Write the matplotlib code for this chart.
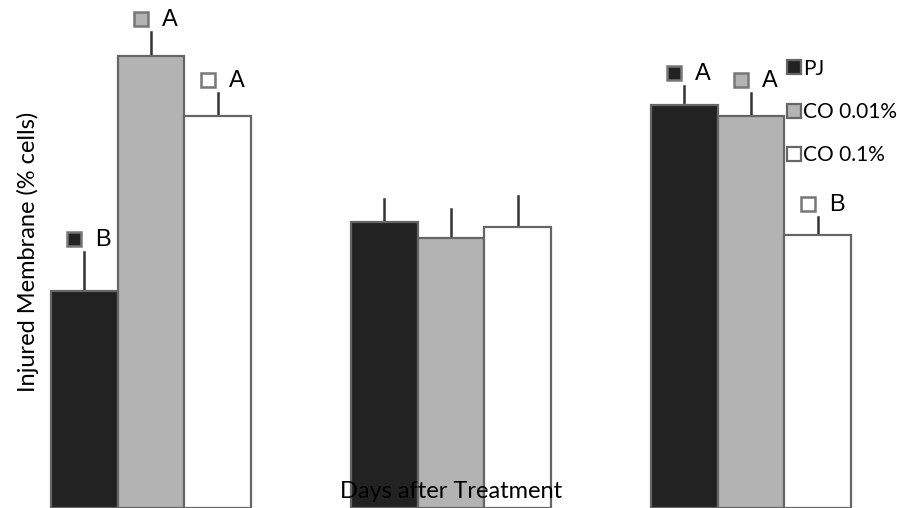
import matplotlib
matplotlib.use("Agg")
import matplotlib.pyplot as plt
import matplotlib.transforms as mtransforms
import numpy as np

# injured membrane (% cells), one list per treatment, three sampling days
groups = ["day 1", "day 2", "day 3"]
treatments = ["PJ", "CO 0.01%", "CO 0.1%"]
pj = [43.4, 57.2, 80.6]
co001 = [90.4, 54.0, 78.4]
co01 = [78.4, 56.2, 54.6]
pj_err = [7.8, 4.6, 3.8]
co001_err = [4.8, 5.8, 4.6]
co01_err = [4.6, 6.2, 3.6]
pj_sig = ["B", "", "A"]
co001_sig = ["A", "", "A"]
co01_sig = ["A", "", "B"]

colors = ["#222222", "#b3b3b3", "#ffffff"]

fig = plt.figure(figsize=(8.97, 5.08), dpi=100)
ax = fig.add_axes([0, 0, 1, 1])

x = np.arange(len(groups))
w = 0.222
series = [(pj, pj_err, pj_sig), (co001, co001_err, co001_sig), (co01, co01_err, co01_sig)]

mark_tr = lambda: mtransforms.offset_copy(ax.transData, fig, x=-10, y=13, units="dots")
text_tr = lambda: mtransforms.offset_copy(ax.transData, fig, x=19, y=12, units="dots")

for i, (vals, errs, sig) in enumerate(series):
    xs = x + (i - 1) * w
    ax.bar(xs, vals, width=w, color=colors[i], edgecolor="#666666",
           linewidth=1.6, label=treatments[i], zorder=2)
    for xi, v, e, s in zip(xs, vals, errs, sig):
        ax.plot([xi, xi], [v, v + e], color="#333333", lw=1.8, zorder=1)
        if s:
            ax.plot([xi], [v + e], marker="s", ms=10, mfc=colors[i],
                    mec="#777777", mew=1.8, transform=mark_tr(), clip_on=False)
            ax.text(xi, v + e, s, transform=text_tr(), ha="center", va="center",
                    fontsize=17, family="Liberation Sans")

ax.set_xlim(-0.503, 2.487)
ax.set_ylim(0, 101.6)
ax.axis("off")

leg = ax.legend(loc="upper left", bbox_to_anchor=(0.866, 0.905), frameon=False,
                handlelength=0.65, handleheight=0.65,
                handletextpad=0.1, labelspacing=1.12, borderpad=0,
                prop={"family": "Lato", "size": 15})

fig.text(28 / 897, 1 - 252 / 508, "Injured Membrane (% cells)", rotation=90,
         ha="center", va="center", fontsize=17, family="Lato")
fig.text(451 / 897, 1 - 492 / 508, "Days after Treatment", ha="center",
         va="center", fontsize=17, family="Lato")

fig.savefig("out.png", dpi=100)
